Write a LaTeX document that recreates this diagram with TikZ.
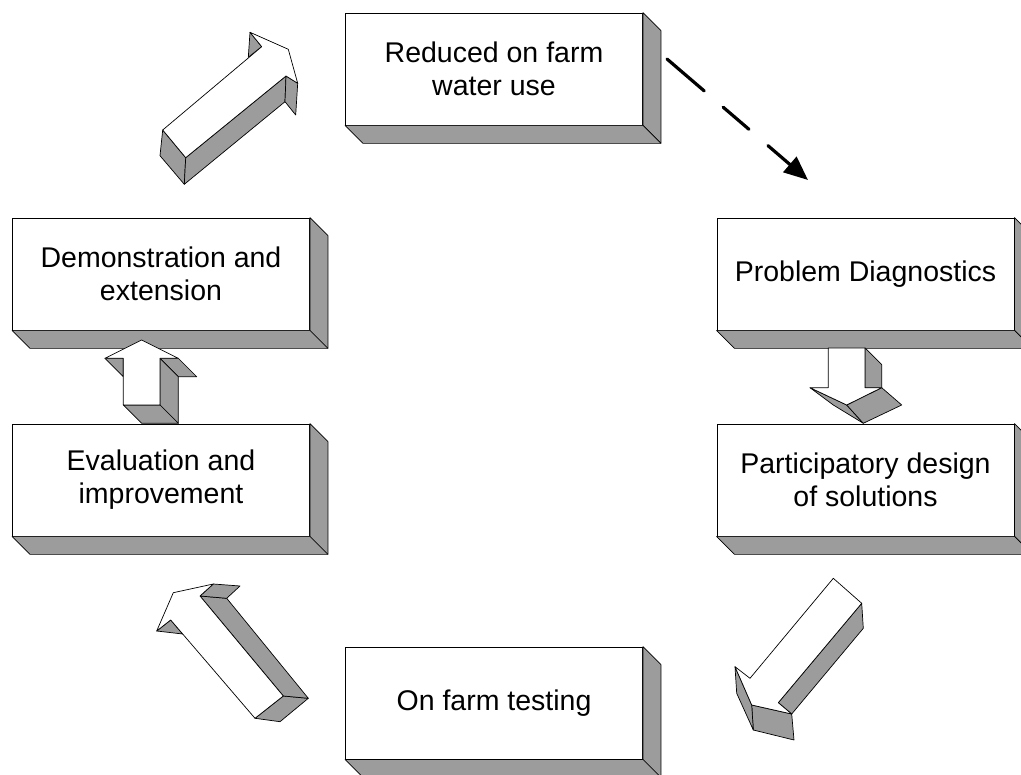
\documentclass[tikz,border=0pt]{standalone}
\usepackage{fontspec}
\setmainfont{Liberation Sans}
\usepackage{tikz}
\usetikzlibrary{arrows.meta,calc}
\definecolor{shade}{HTML}{9C9C9C}

\begin{document}
\begin{tikzpicture}[x=1pt,y=-1pt,
  stage/.style={draw=black,line width=0.8pt,fill=white,minimum width=297pt,minimum height=112pt,
    align=center,inner sep=0pt,font=\fontsize{28.5}{33}\selectfont},
  side/.style={fill=shade,draw=black,line width=0.7pt,line join=round},
  face/.style={fill=white,draw=black,line width=0.7pt,line join=round}]
  \useasboundingbox (0,0) rectangle (1021,775);
  % boxes of the cycle
  \node[stage] (reduced) at (494,69) {Reduced on farm\\water use};
  \node[stage] (diag) at (865.5,274) {Problem Diagnostics};
  \node[stage] (design) at (865.5,480) {Participatory design\\of solutions};
  \node[stage] (testing) at (494,703) {On farm testing};
  \node[stage] (evaluation) at (161,480) {Evaluation and\\improvement};
  \node[stage] (demo) at (161,274) {Demonstration and\\extension};
  \foreach \n in {reduced,diag,design,testing,evaluation,demo} {
    \filldraw[side] (\n.north east) -- ++(18,18) -- ($(\n.south east)+(18,18)$) -- (\n.south east) -- cycle;
    \filldraw[side] (\n.south west) -- (\n.south east) -- ++(18,18) -- ($(\n.south west)+(18,18)$) -- cycle;
  }
  % dashed link
  \coordinate (dashfrom) at (667,59);
  \coordinate (dashto) at (808,180);
  \draw[line width=3.2pt,line cap=round,dash pattern=on 49pt off 25pt on 34pt off 25pt on 80pt,
    -{Triangle[length=24pt,width=20pt]}] (dashfrom) -- (dashto);
  % block arrow, up to reduced
  \filldraw[side] (162.7,130) -- (185.7,157.7) -- (184.3,184.3) -- (160,155.7) -- cycle;
  \filldraw[side] (185.7,157.7) -- (286,76) -- (285,101.7) -- (184.3,184.3) -- cycle;
  \filldraw[side] (286,76) -- (297.7,83.3) -- (295.7,115) -- (285,101.7) -- cycle;
  \filldraw[side] (261.7,46.7) -- (250,32.3) -- (248.3,57.3) -- cycle;
  \filldraw[face] (162.7,130) -- (261.7,46.7) -- (250,32.3) -- (288.3,49.3) -- (297.7,83.3)
    -- (286,76) -- (185.7,157.7) -- cycle;
  % block arrow, diag to design
  \filldraw[side] (865,348) -- (881.7,364.7) -- (881.7,387.7) -- (865,387.7) -- cycle;
  \filldraw[side] (810,387.7) -- (846.7,405) -- (863.3,423.3) -- (833.3,405) -- cycle;
  \filldraw[side] (846.7,405) -- (881.7,387.7) -- (901.7,405) -- (863.3,423.3) -- cycle;
  \filldraw[face] (828.3,348) -- (865,348) -- (865,387.7) -- (881.7,387.7) -- (846.7,405)
    -- (810,387.7) -- (828.3,387.7) -- cycle;
  % block arrow, down to testing
  \filldraw[side] (861.7,603.3) -- (863.3,628.3) -- (791.7,714) -- (778.3,702.7) -- cycle;
  \filldraw[side] (751.7,705) -- (791.7,714) -- (794,740) -- (753.3,730) -- cycle;
  \filldraw[side] (735,666.7) -- (751.7,705) -- (753.3,730) -- (736.7,693.3) -- cycle;
  \filldraw[face] (833.3,578.3) -- (861.7,603.3) -- (778.3,702.7) -- (791.7,714) -- (751.7,705)
    -- (735,666.7) -- (750,678.3) -- cycle;
  % block arrow, up to evaluation
  \filldraw[side] (255,718.3) -- (283.3,696) -- (308.3,698.3) -- (280,721.7) -- cycle;
  \filldraw[side] (283.3,696) -- (200,596) -- (226.7,598.3) -- (308.3,698.3) -- cycle;
  \filldraw[side] (200,596) -- (213.3,584) -- (240,586) -- (226.7,598.3) -- cycle;
  \filldraw[side] (156.7,631) -- (170.7,620) -- (182.7,634) -- cycle;
  \filldraw[face] (255,718.3) -- (170.7,620) -- (156.7,631) -- (173.3,592.7) -- (213.3,584)
    -- (200,596) -- (283.3,696) -- cycle;
  % block arrow, evaluation to demo
  \filldraw[side] (105,358.3) -- (123.3,358.3) -- (123.3,376.7) -- cycle;
  \filldraw[side] (160,358.3) -- (178.3,358.3) -- (196.7,376.7) -- (178.3,376.7) -- cycle;
  \filldraw[side] (160,358.3) -- (178.3,376.7) -- (178.3,423.3) -- (160,405) -- cycle;
  \filldraw[side] (123.3,405) -- (160,405) -- (178.3,423.3) -- (141.7,423.3) -- cycle;
  \filldraw[face] (141.7,340) -- (178.3,358.3) -- (160,358.3) -- (160,405) -- (123.3,405)
    -- (123.3,358.3) -- (105,358.3) -- cycle;
\end{tikzpicture}
\end{document}
